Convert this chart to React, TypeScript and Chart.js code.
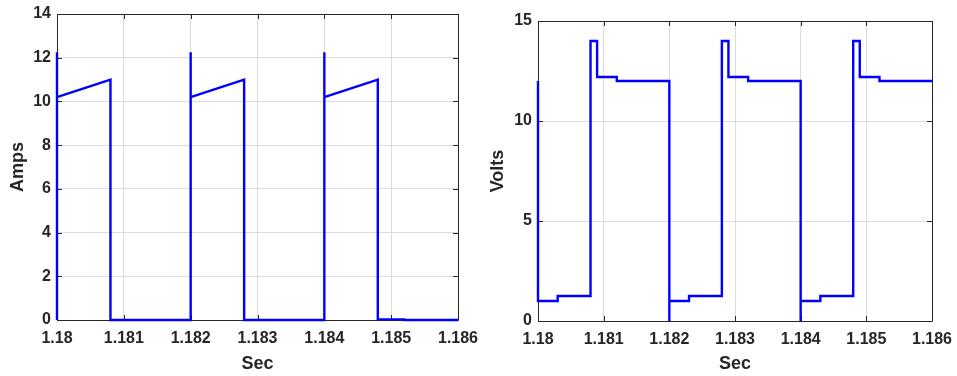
import React, { useEffect, useRef } from "react";
import { Chart, registerables } from "chart.js";

Chart.register(...registerables);

// ---- data ----
const xTickValues = [1.18, 1.181, 1.182, 1.183, 1.184, 1.185, 1.186];
const xTickLabels = ["1.18", "1.181", "1.182", "1.183", "1.184", "1.185", "1.186"];

const ampsTicks = [0, 2, 4, 6, 8, 10, 12, 14];
const voltsTicks = [0, 5, 10, 15];

const ampsTime = [
  1.18, 1.18, 1.18, 1.1808, 1.1808, 1.182, 1.182, 1.182, 1.1828, 1.1828,
  1.184, 1.184, 1.184, 1.1848, 1.1848, 1.1852, 1.1852, 1.186,
];
const ampsValues = [
  0, 12.25, 10.2, 11.0, 0, 0, 12.25, 10.2, 11.0, 0,
  0, 12.25, 10.2, 11.0, 0.03, 0.03, 0, 0,
];

const voltsTime = [
  1.18, 1.18, 1.1803, 1.1803, 1.1808, 1.1808, 1.1809, 1.1809, 1.1812, 1.1812,
  1.182, 1.182, 1.182, 1.1823, 1.1823, 1.1828, 1.1828, 1.1829, 1.1829, 1.1832,
  1.1832, 1.184, 1.184, 1.184, 1.1843, 1.1843, 1.1848, 1.1848, 1.1849, 1.1849,
  1.1852, 1.1852, 1.186,
];
const voltsValues = [
  12, 1, 1, 1.25, 1.25, 14, 14, 12.2, 12.2, 12,
  12, 0, 1, 1, 1.25, 1.25, 14, 14, 12.2, 12.2,
  12, 12, 0, 1, 1, 1.25, 1.25, 14, 14, 12.2,
  12.2, 12, 12,
];

const FONT = "'Liberation Sans', Arial, Helvetica, sans-serif";
const TEXT = "#262626";
const GRID = "#dcdcdc";

const framePlugin = {
  id: "frame",
  beforeDatasetsDraw(chart: any) {
    const { ctx, chartArea: a, scales } = chart;
    const L = 5;
    ctx.save();
    ctx.strokeStyle = TEXT;
    ctx.lineWidth = 1;
    ctx.beginPath();
    const xs = scales.x.ticks.map((t: any) => Math.round(scales.x.getPixelForValue(t.value)) + 0.5);
    const ys = scales.y.ticks.map((t: any) => Math.round(scales.y.getPixelForValue(t.value)) + 0.5);
    xs.forEach((px: number) => {
      ctx.moveTo(px, a.bottom);
      ctx.lineTo(px, a.bottom - L);
      ctx.moveTo(px, a.top);
      ctx.lineTo(px, a.top + L);
    });
    ys.forEach((py: number) => {
      ctx.moveTo(a.left, py);
      ctx.lineTo(a.left + L, py);
      ctx.moveTo(a.right, py);
      ctx.lineTo(a.right - L, py);
    });
    ctx.stroke();
    ctx.beginPath();
    ctx.rect(Math.round(a.left) + 0.5, Math.round(a.top) + 0.5, Math.round(a.right - a.left), Math.round(a.bottom - a.top));
    ctx.stroke();
    ctx.restore();
  },
};

function makeConfig(
  times: number[],
  values: number[],
  yTicks: number[],
  yTitle: string,
  yWidth: number,
  xHeight: number,
  pad: { top: number; right: number },
  yTitlePad: number
): any {
  const points = times.map((t, i) => ({ x: t, y: values[i] }));
  return {
    type: "line",
    data: {
      datasets: [
        {
          data: points,
          borderColor: "#0000ff",
          borderWidth: 2.4,
          pointRadius: 0,
          tension: 0,
          fill: false,
          clip: 4,
        },
      ],
    },
    options: {
      responsive: false,
      animation: false,
      layout: { padding: { top: pad.top, right: pad.right, left: 0, bottom: 0 } },
      plugins: { legend: { display: false }, tooltip: { enabled: false } },
      scales: {
        x: {
          type: "linear",
          min: xTickValues[0],
          max: xTickValues[xTickValues.length - 1],
          afterBuildTicks: (s: any) => {
            s.ticks = xTickValues.map((v) => ({ value: v }));
          },
          afterFit: (s: any) => {
            s.height = xHeight;
            s.paddingLeft = 0;
            s.paddingRight = 0;
          },
          ticks: {
            autoSkip: false,
            maxRotation: 0,
            padding: 9,
            color: TEXT,
            font: { family: FONT, size: 16, weight: "bold" },
            callback: (_v: any, i: number) => xTickLabels[i],
          },
          grid: { color: GRID, drawTicks: false, lineWidth: 1 },
          border: { display: false },
          title: {
            display: true,
            text: "Sec",
            color: TEXT,
            font: { family: FONT, size: 18, weight: "bold" },
            padding: { top: 0, bottom: 1 },
          },
        },
        y: {
          type: "linear",
          min: yTicks[0],
          max: yTicks[yTicks.length - 1],
          afterBuildTicks: (s: any) => {
            s.ticks = yTicks.map((v) => ({ value: v }));
          },
          afterFit: (s: any) => {
            s.width = yWidth;
            s.paddingTop = 0;
            s.paddingBottom = 0;
          },
          ticks: {
            padding: 6,
            color: TEXT,
            font: { family: FONT, size: 16, weight: "bold" },
            callback: (v: any) => String(v),
          },
          grid: { color: GRID, drawTicks: false, lineWidth: 1 },
          border: { display: false },
          title: {
            display: true,
            text: yTitle,
            color: TEXT,
            font: { family: FONT, size: 18, weight: "bold" },
            padding: { top: yTitlePad, bottom: 0 },
          },
        },
      },
    },
    plugins: [framePlugin],
  };
}

function ChartCanvas({ config, width, height, left }: any) {
  const ref = useRef<HTMLCanvasElement | null>(null);
  useEffect(() => {
    if (!ref.current) return;
    const chart = new Chart(ref.current, config);
    return () => chart.destroy();
  }, [config]);
  return (
    <canvas
      ref={ref}
      width={width}
      height={height}
      style={{ position: "absolute", left, top: 0, width, height }}
    />
  );
}

const ampsConfig = makeConfig(ampsTime, ampsValues, ampsTicks, "Amps", 57, 56, { top: 14, right: 20 }, 7);
const voltsConfig = makeConfig(voltsTime, voltsValues, voltsTicks, "Volts", 60, 55, { top: 21, right: 25 }, 9);

export default function App() {
  return (
    <div style={{ position: "absolute", left: 0, top: 0, width: 957, height: 376, background: "#fff" }}>
      <ChartCanvas config={ampsConfig} width={478} height={376} left={0} />
      <ChartCanvas config={voltsConfig} width={479} height={376} left={478} />
    </div>
  );
}
